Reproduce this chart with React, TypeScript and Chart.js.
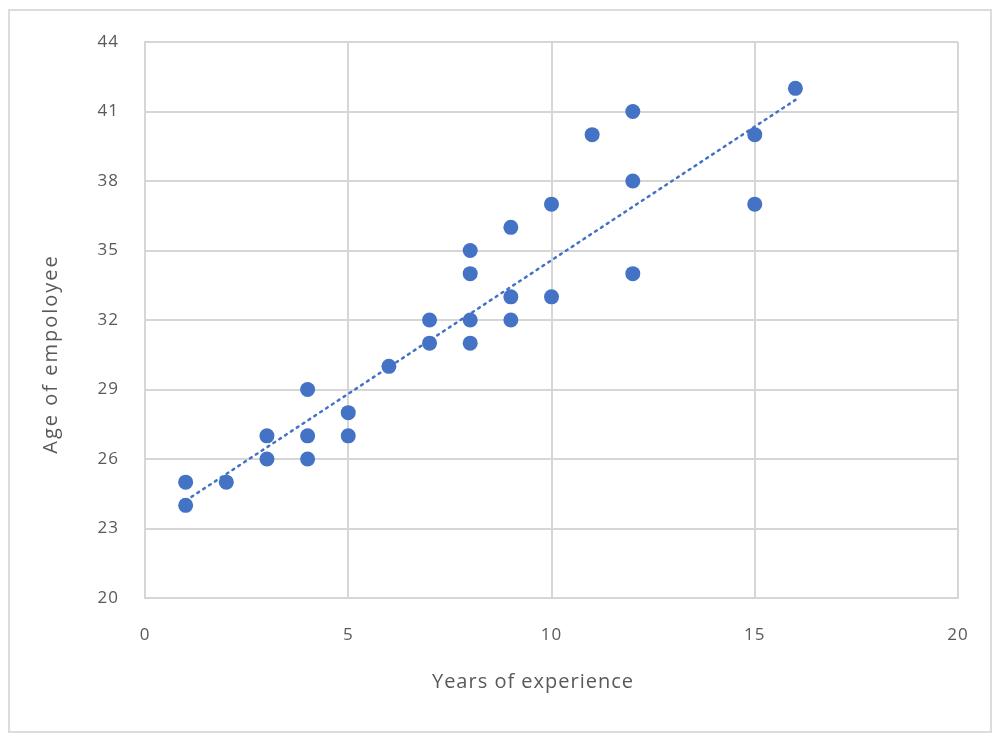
import React, { useEffect, useRef } from "react";
import { Chart, registerables } from "chart.js";

Chart.register(...registerables);

const experienceYears = [1, 1, 2, 3, 3, 4, 4, 4, 5, 5, 6, 7, 7, 8, 8, 8, 8, 9, 9, 9, 10, 10, 11, 12, 12, 12, 15, 15, 16];
const employeeAges = [25, 24, 25, 27, 26, 29, 27, 26, 28, 27, 30, 32, 31, 35, 34, 32, 31, 36, 33, 32, 37, 33, 40, 41, 38, 34, 40, 37, 42];
const trendX = [1, 16];
const trendY = [24.2, 41.5];
const xTitle = "Years of experience";
const yTitle = "Age of empoloyee";

const FONT = "'Open Sans', 'Noto Sans', sans-serif";
const TEXT = "#595959";
const GRID = "#d6d6d6";
const BLUE = "#4472C4";

const spacingPlugin = {
  id: "spacingPlugin",
  beforeDraw(chart: any) {
    (chart.ctx as any).letterSpacing = "1px";
  },
};

const titlesPlugin = {
  id: "titlesPlugin",
  afterDraw(chart: any) {
    const ctx = chart.ctx;
    ctx.save();
    (ctx as any).letterSpacing = "2px";
    ctx.fillStyle = TEXT;
    ctx.font = `20px ${FONT}`;
    ctx.textAlign = "center";
    ctx.textBaseline = "middle";
    ctx.translate(51, 354);
    ctx.rotate(-Math.PI / 2);
    ctx.fillText(yTitle, 0, 0);
    ctx.restore();

    ctx.save();
    (ctx as any).letterSpacing = "1px";
    ctx.fillStyle = TEXT;
    ctx.font = `20px ${FONT}`;
    ctx.textAlign = "center";
    ctx.textBaseline = "middle";
    ctx.fillText(xTitle, 533, 682);
    ctx.restore();
  },
};

export default function App() {
  const ref = useRef<HTMLCanvasElement | null>(null);
  useEffect(() => {
    if (!ref.current) return;
    const points = experienceYears.map((x, i) => ({ x, y: employeeAges[i] }));
    const trend = trendX.map((x, i) => ({ x, y: trendY[i] }));
    const chart = new Chart(ref.current, {
      type: "scatter",
      data: {
        datasets: [
          {
            data: trend,
            showLine: true,
            borderColor: BLUE,
            borderWidth: 2.5,
            borderDash: [2, 5],
            borderCapStyle: "round",
            pointRadius: 0,
            fill: false,
            order: 0,
          } as any,
          {
            data: points,
            backgroundColor: BLUE,
            borderColor: BLUE,
            pointRadius: 7.5,
            borderWidth: 0,
            order: 1,
          },
        ],
      },
      plugins: [spacingPlugin, titlesPlugin],
      options: {
        responsive: false,
        animation: false,
        devicePixelRatio: 1,
        layout: { padding: { top: 42, right: 40, left: 0, bottom: 0 } },
        plugins: { legend: { display: false }, tooltip: { enabled: false } },
        scales: {
          x: {
            type: "linear",
            min: 0,
            max: 20,
            ticks: { stepSize: 5, color: TEXT, font: { family: FONT, size: 17 }, padding: 27 },
            grid: { color: GRID, lineWidth: 2, drawTicks: false },
            border: { display: true, color: GRID, width: 2 },
            afterFit(scale: any) {
              scale.height = 735 - 598;
            },
          },
          y: {
            type: "linear",
            min: 20,
            max: 44,
            ticks: { stepSize: 3, color: TEXT, font: { family: FONT, size: 17 }, padding: 26 },
            grid: { color: GRID, lineWidth: 2, drawTicks: false },
            border: { display: true, color: GRID, width: 2 },
            afterFit(scale: any) {
              scale.width = 145;
            },
          },
        },
      },
    });
    return () => chart.destroy();
  }, []);
  return (
    <div style={{ position: "absolute", left: 0, top: 0, width: 998, height: 735, background: "#fff" }}>
      <div
        style={{
          position: "absolute",
          left: 8,
          top: 9,
          width: 984,
          height: 724,
          border: "2px solid #dcdcdc",
          boxSizing: "border-box",
        }}
      />
      <canvas ref={ref} width={998} height={735} style={{ position: "absolute", left: 0, top: 0 }} />
    </div>
  );
}
